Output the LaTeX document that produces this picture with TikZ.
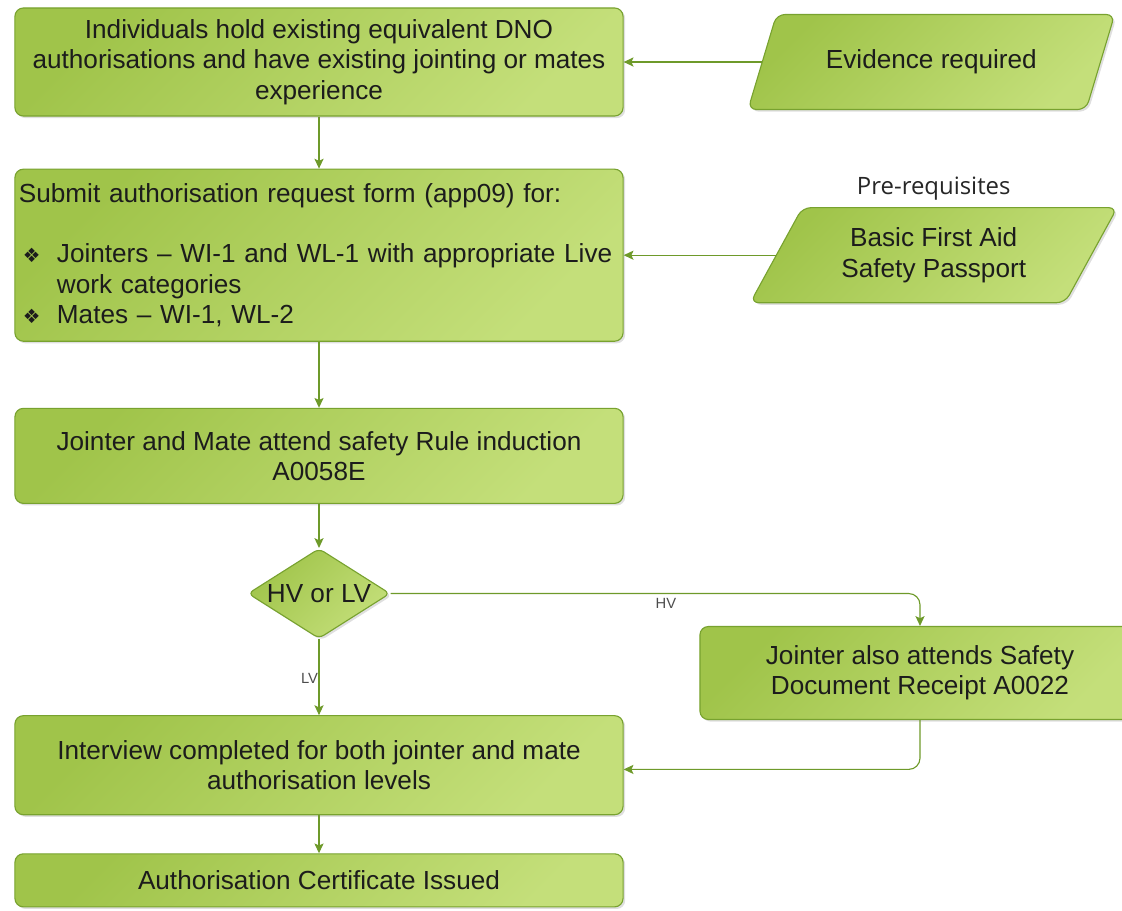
\documentclass[tikz,border=0pt]{standalone}
\usepackage{fontspec}
\setmainfont{Liberation Sans}
\newfontfamily\symfont{DejaVu Sans}
\newfontfamily\headfont{Open Sans}
\usetikzlibrary{shapes.geometric, arrows.meta, positioning, shadows}

\definecolor{boxtop}{HTML}{A0C44A}
\definecolor{boxbot}{HTML}{C4DF7A}
\definecolor{boxline}{HTML}{78A22F}
\definecolor{flowline}{HTML}{6E9A2A}
\definecolor{boxtext}{HTML}{1C1C1C}

\newcommand{\bitem}{\makebox[0.95cm][l]{\hspace{0.1cm}{\symfont\fontsize{14}{14}\selectfont ❖}}}

\begin{document}
\begin{tikzpicture}[
  x=0.025cm, y=-0.025cm,
  base/.style={draw=boxline, line width=0.8pt, top color=boxtop, bottom color=boxbot, shading angle=45,
    drop shadow={shadow xshift=1.5pt, shadow yshift=-1.5pt, opacity=0.25}, text=boxtext,
    font=\fontsize{18.6}{21.5}\selectfont},
  process/.style={base, rectangle, rounded corners=6pt, minimum width=15.2cm, align=center, inner sep=0.1cm},
  evidence/.style={base, trapezium, trapezium left angle=59, trapezium right angle=121, trapezium stretches=true,
    minimum width=9.175cm, minimum height=2.375cm, rounded corners=6pt, align=center},
  decision/.style={base, diamond, aspect=1.58, minimum width=3.55cm, minimum height=2.25cm, inner sep=0pt, rounded corners=4pt},
  arrow/.style={draw=flowline, line width=0.8pt, -{Stealth[length=7pt, width=6.5pt, inset=1.5pt]}, rounded corners=8pt},
  tag/.style={font=\fontsize{10.5}{12}\selectfont, text=black!70}
]
  \useasboundingbox (0,0) rectangle (1122,910);

  \node[process, minimum height=2.7cm] (ident) at (319,62) {Individuals hold existing equivalent DNO\\authorisations and have existing jointing or mates\\experience};
  \node[process, minimum height=4.3cm, align=left, text width=15cm, below=1.3cm of ident] (submit)
    {Submit authorisation request form (app09) for:\\ \mbox{}\\
     \bitem Jointers -- WI-1 and WL-1 with appropriate Live\\
     \hspace*{0.95cm}work categories\\
     \bitem Mates -- WI-1, WL-2};
  \node[process, minimum height=2.375cm, below=1.65cm of submit] (induct) {Jointer and Mate attend safety Rule induction\\A0058E};
  \node[decision, below=1.1cm of induct] (hvlv) {HV or LV};
  \node[process, minimum height=2.475cm, below=1.9cm of hvlv] (interview) {Interview completed for both jointer and mate\\authorisation levels};
  \node[process, minimum height=1.325cm, below=0.95cm of interview] (cert) {Authorisation Certificate Issued};

  \node[evidence, right=3.45cm of ident] (evid) {Evidence required};
  \node[evidence, right=3.8cm of submit] (prereq) {Basic First Aid\\Safety Passport};
  \node[above=0.05cm of prereq, font=\headfont\fontsize{17}{20}\selectfont, text=black!85] (prelabel) {Pre-requisites};
  \node[process, minimum width=11cm, minimum height=2.325cm] (docrec) at (920,673) {Jointer also attends Safety\\Document Receipt A0022};

  \draw[arrow] (evid.west) -- (ident.east);
  \draw[arrow] (prereq.west) -- (submit.east);
  \draw[arrow] (ident) -- (submit);
  \draw[arrow] (submit) -- (induct);
  \draw[arrow] (induct) -- (hvlv);
  \draw[arrow] (hvlv) -- node[tag, left=-3pt, pos=0.52] {LV} (interview);
  \draw[arrow] (hvlv.east) -| node[tag, below, pos=0.26] {HV} (docrec.north);
  \draw[arrow] (docrec.south) |- ([yshift=-3pt]interview.east);
  \draw[arrow] (interview) -- (cert);
\end{tikzpicture}
\end{document}
